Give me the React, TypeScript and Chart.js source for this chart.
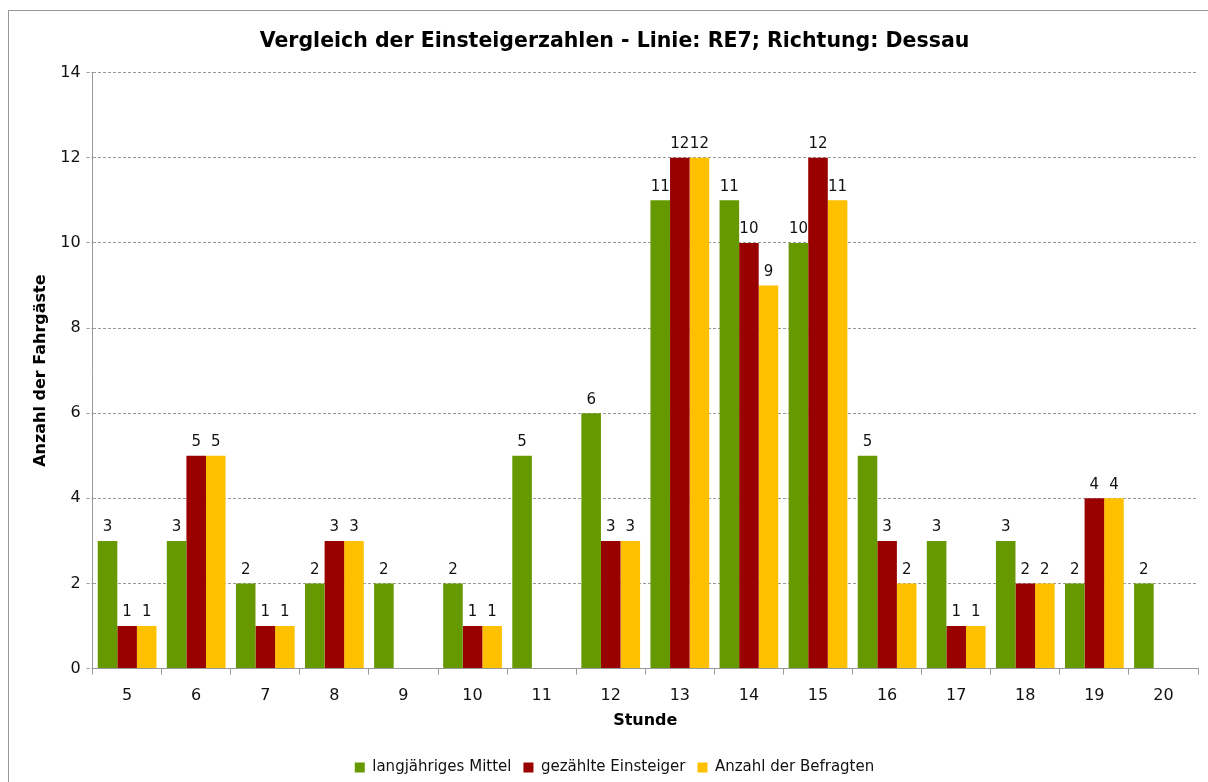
import React, { useEffect, useRef } from "react";
import { Chart, registerables } from "chart.js";

Chart.register(...registerables);

const categories = ["5", "6", "7", "8", "9", "10", "11", "12", "13", "14", "15", "16", "17", "18", "19", "20"];
const langjaehrigesMittel = [3, 3, 2, 2, 2, 2, 5, 6, 11, 11, 10, 5, 3, 3, 2, 2];
const gezaehlteEinsteiger = [1, 5, 1, 3, null, 1, null, 3, 12, 10, 12, 3, 1, 2, 4, null];
const anzahlBefragten = [1, 5, 1, 3, null, 1, null, 3, 12, 9, 11, 2, 1, 2, 4, null];
const yTicks = [0, 2, 4, 6, 8, 10, 12, 14];

const FONT = "'DejaVu Sans', Verdana, sans-serif";

const labelPlugin = {
  id: "barLabels",
  afterDatasetsDraw(chart: any) {
    const ctx = chart.ctx;
    ctx.save();
    ctx.font = `15px ${FONT}`;
    ctx.fillStyle = "#111";
    ctx.textAlign = "center";
    ctx.textBaseline = "bottom";
    chart.data.datasets.forEach((ds: any, i: number) => {
      const meta = chart.getDatasetMeta(i);
      meta.data.forEach((bar: any, j: number) => {
        const v = ds.data[j];
        if (v === null || v === undefined) return;
        ctx.fillText(String(v), bar.x, bar.y - 6);
      });
    });
    ctx.restore();
  },
};

export default function App() {
  const ref = useRef<HTMLCanvasElement | null>(null);
  useEffect(() => {
    document.body.style.overflow = "hidden";
    const chart = new Chart(ref.current!, {
      type: "bar",
      data: {
        labels: categories,
        datasets: [
          { label: "langjähriges Mittel", data: langjaehrigesMittel, backgroundColor: "#669900" },
          { label: "gezählte Einsteiger", data: gezaehlteEinsteiger as any, backgroundColor: "#990000" },
          { label: "Anzahl der Befragten", data: anzahlBefragten as any, backgroundColor: "#FFC000" },
        ],
      },
      options: {
        responsive: false,
        animation: false,
        devicePixelRatio: 1,
        layout: { padding: { left: 22, right: 10, top: 4, bottom: 6 } },
        datasets: { bar: { categoryPercentage: 0.85, barPercentage: 1 } },
        plugins: {
          title: {
            display: true,
            text: "Vergleich der Einsteigerzahlen - Linie: RE7; Richtung: Dessau",
            font: { family: FONT, size: 20.5, weight: "bold" },
            color: "#000",
            padding: { top: 14, bottom: 19 },
          },
          legend: {
            position: "bottom",
            labels: {
              font: { family: FONT, size: 15 },
              color: "#111",
              boxWidth: 10,
              boxHeight: 10,
              padding: 12,
            },
          },
          tooltip: { enabled: false },
        },
        scales: {
          x: {
            grid: { offset: true, drawOnChartArea: false, tickLength: 6, color: "#999" },
            border: { color: "#999" },
            ticks: { font: { family: FONT, size: 16 }, color: "#111", padding: 12 },
            title: {
              display: true,
              text: "Stunde",
              font: { family: FONT, size: 16, weight: "bold" },
              color: "#000",
              padding: { top: -7, bottom: 18 },
            },
          },
          y: {
            min: 0,
            max: 14,
            afterBuildTicks: (scale: any) => {
              scale.ticks = yTicks.map((v) => ({ value: v }));
            },
            grid: { color: "#999", tickLength: 6, tickBorderDash: [3, 2] },
            border: { color: "#999", dash: [3, 2] },
            ticks: { font: { family: FONT, size: 16 }, color: "#111", padding: 6 },
            title: {
              display: true,
              text: "Anzahl der Fahrgäste",
              font: { family: FONT, size: 16, weight: "bold" },
              color: "#000",
              padding: { top: 0, bottom: 4 },
            },
          },
        },
      },
      plugins: [labelPlugin],
    } as any);
    return () => chart.destroy();
  }, []);
  return (
    <div
      style={{
        position: "absolute",
        left: 8,
        top: 10,
        width: 1260,
        height: 800,
        border: "1px solid #999",
        background: "#fff",
      }}
    >
      <canvas ref={ref} width={1199} height={780} style={{ display: "block" }} />
    </div>
  );
}
